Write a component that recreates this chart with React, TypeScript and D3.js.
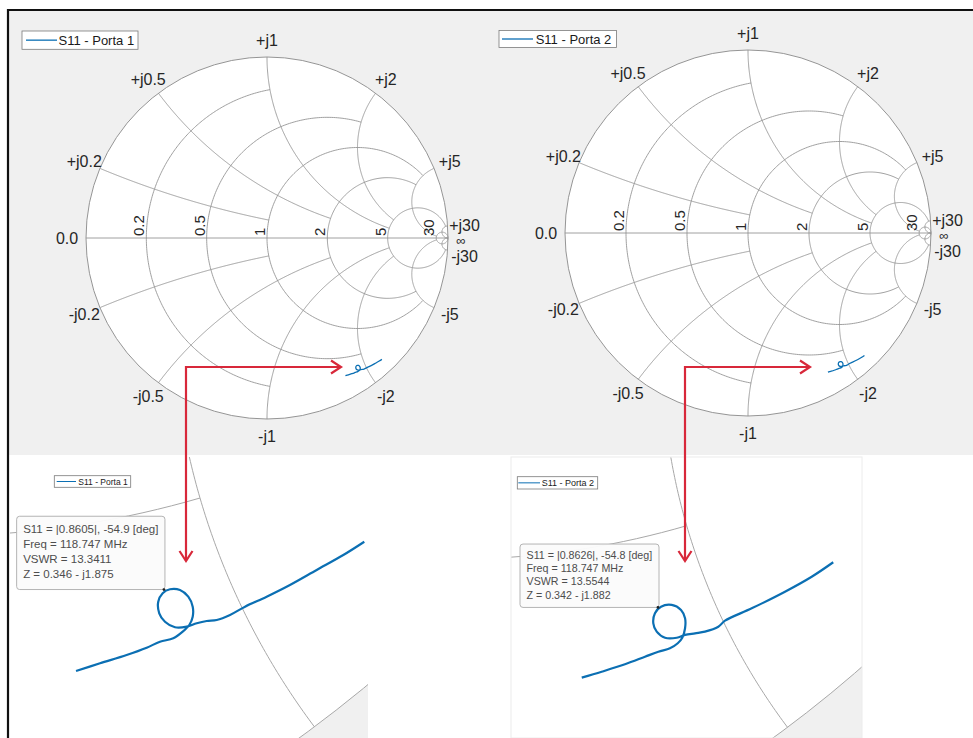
import React from "react";
import * as d3 from "d3";

const FONT = '"Liberation Sans", Arial, Helvetica, sans-serif';

// Smith grid: circle values and the value up to which each circle is drawn
const gridValues = [0.2, 0.5, 1, 2, 5, 30];
const gridLimits = [1, 2, 5, 5, 30, Infinity];
const resistanceLabels = ["0.2", "0.5", "1", "2", "5", "30"];
const reactanceLabels = ["j0.2", "j0.5", "j1", "j2", "j5", "j30"];
const legendLabels = ["S11 - Porta 1", "S11 - Porta 2"];

// S11 trace, Porta 1 (reflection coefficient: real / imaginary)
const port1Re = [0.4333, 0.4501, 0.4687, 0.4827, 0.492, 0.5013, 0.5079, 0.5125, 0.5149, 0.5149, 0.5118, 0.506, 0.499, 0.4939, 0.4908, 0.4915, 0.4955, 0.5025, 0.5107, 0.5177, 0.5247, 0.5317, 0.541, 0.5515, 0.5666, 0.5829, 0.6016, 0.6202, 0.6349];
const port1Im = [-0.761, -0.7556, -0.7498, -0.7447, -0.7405, -0.7381, -0.7335, -0.7288, -0.723, -0.716, -0.709, -0.7043, -0.7038, -0.7066, -0.7125, -0.7206, -0.7265, -0.7304, -0.73, -0.7276, -0.726, -0.7253, -0.7218, -0.716, -0.709, -0.7008, -0.6903, -0.6799, -0.6706];

// S11 trace, Porta 2
const port2Re = [0.4367, 0.4525, 0.471, 0.4869, 0.4975, 0.5067, 0.5129, 0.5165, 0.5187, 0.5187, 0.5155, 0.5081, 0.4996, 0.4948, 0.4935, 0.4962, 0.5028, 0.5121, 0.5187, 0.5266, 0.5345, 0.5451, 0.5504, 0.5716, 0.598, 0.6192, 0.6363];
const port2Im = [-0.7606, -0.7559, -0.75, -0.744, -0.74, -0.7373, -0.7333, -0.7289, -0.7214, -0.7135, -0.7069, -0.7029, -0.7043, -0.7095, -0.7175, -0.7241, -0.7289, -0.7289, -0.7267, -0.7254, -0.7241, -0.7202, -0.7154, -0.7056, -0.6924, -0.6805, -0.669];

// data tips (magnitude, angle in degrees) and their texts
const port1Marker = [0.8605, -54.9];
const port2Marker = [0.8626, -54.8];
const port1Tip = ["S11 = |0.8605|, -54.9 [deg]", "Freq = 118.747 MHz", "VSWR = 13.3411", "Z = 0.346 - j1.875"];
const port2Tip = ["S11 = |0.8626|, -54.8 [deg]", "Freq = 118.747 MHz", "VSWR = 13.5544", "Z = 0.342 - j1.882"];

type P = [number, number];

function gammaOf(r: number, x: number): P {
  if (!isFinite(r) || !isFinite(x)) return [1, 0];
  const den = (r + 1) ** 2 + x * x;
  return [(r * r + x * x - 1) / den, (2 * x) / den];
}

function resistanceArc(r: number, L: number, n = 240): P[] {
  const pm = isFinite(L) ? Math.atan(L / (r + 1)) : Math.PI / 2;
  const pts: P[] = [];
  for (let i = 0; i <= n; i++) {
    const phi = -pm + (2 * pm * i) / n;
    if (Math.abs(Math.abs(phi) - Math.PI / 2) < 1e-9) pts.push([1, 0]);
    else pts.push(gammaOf(r, (r + 1) * Math.tan(phi)));
  }
  return pts;
}

function reactanceArc(x: number, L: number, sign: number, n = 240): P[] {
  const p0 = Math.atan(x);
  const p1 = isFinite(L) ? Math.atan2(x, L + 1) : 0;
  const pts: P[] = [];
  for (let i = 0; i <= n; i++) {
    const phi = p0 + ((p1 - p0) * i) / n;
    if (phi < 1e-9) pts.push([1, 0]);
    else {
      const r = x / Math.tan(phi) - 1;
      pts.push(gammaOf(Math.max(0, r), sign * x));
    }
  }
  return pts;
}

const GRID: P[][] = (() => {
  const arcs: P[][] = [[[-1, 0], [1, 0]]];
  gridValues.forEach((v, i) => {
    const L = gridLimits[i];
    arcs.push(resistanceArc(v, L));
    arcs.push(reactanceArc(v, L, 1));
    arcs.push(reactanceArc(v, L, -1));
  });
  return arcs;
})();

const BLUE = "#0b6fb3";
const GRIDC = "#959595";
const RED = "#d8283a";

function Legend({ x, y, w, h, l1, l2, tx, fs, label, sw }: any) {
  return (
    <g>
      <rect x={x} y={y} width={w} height={h} fill="#fff" stroke="#7a7a7a" strokeWidth={0.8} />
      <line x1={l1} x2={l2} y1={y + h / 2} y2={y + h / 2} stroke={BLUE} strokeWidth={sw} />
      <text x={tx} y={y + h / 2 + fs * 0.36} fontSize={fs} fontFamily={FONT} fill="#1a1a1a">{label}</text>
    </g>
  );
}

function SmithMain({ cx, cy, R, re, im, legend }: any) {
  const sx = d3.scaleLinear().domain([-1, 1]).range([cx - R, cx + R]);
  const sy = d3.scaleLinear().domain([-1, 1]).range([cy + R, cy - R]);
  const line = d3.line<P>().x((d) => sx(d[0])).y((d) => sy(d[1]));
  const trace: P[] = re.map((v: number, i: number) => [v, im[i]] as P);
  const traceLine = d3.line<P>().x((d) => sx(d[0])).y((d) => sy(d[1])).curve(d3.curveCatmullRom);
  const lr = R + 17;
  return (
    <g>
      <circle cx={sx(0)} cy={sy(0)} r={R} fill="#fff" stroke={GRIDC} strokeWidth={1} />
      {GRID.map((a, i) => (
        <path key={i} d={line(a) || ""} fill="none" stroke={GRIDC} strokeWidth={0.9} />
      ))}
      {gridValues.map((v, i) => {
        const th = Math.PI - 2 * Math.atan(v);
        const lx = cx + lr * Math.cos(th);
        const dy = v >= 30 ? 13 : lr * Math.sin(th);
        return (
          <g key={"l" + i} fontFamily={FONT} fontSize={16} fill="#262626" textAnchor="middle" dominantBaseline="central">
            <text x={lx} y={cy - dy}>{"+" + reactanceLabels[i]}</text>
            <text x={lx} y={cy + dy + (v >= 30 ? 5 : 0)}>{"-" + reactanceLabels[i]}</text>
          </g>
        );
      })}
      <text x={cx - R - 19} y={cy} fontFamily={FONT} fontSize={16} fill="#262626" textAnchor="middle" dominantBaseline="central">0.0</text>
      <text x={cx + R + 13} y={cy + 2} fontFamily={FONT} fontSize={13} fill="#262626" textAnchor="middle" dominantBaseline="central">∞</text>
      {gridValues.map((v, i) => {
        const gx = sx((v - 1) / (v + 1));
        return (
          <text key={"r" + i} transform={`translate(${gx - 2},${cy - 2}) rotate(-90)`} fontFamily={FONT} fontSize={15} fill="#262626">
            {resistanceLabels[i]}
          </text>
        );
      })}
      <path d={traceLine(trace) || ""} fill="none" stroke={BLUE} strokeWidth={1.3} />
      <Legend {...legend} />
    </g>
  );
}

function Inset({ id, x0, y0, x1, y1, ax, ay, k, re, im, marker, tip, tipFs, tipLh, boxW, boxH, legend, border }: any) {
  const sx = d3.scaleLinear().domain([0.52, 1.52]).range([ax, ax + k]);
  const sy = d3.scaleLinear().domain([-0.64, 0.36]).range([ay, ay - k]);
  const line = d3.line<P>().x((d) => sx(d[0])).y((d) => sy(d[1]));
  const trace: P[] = re.map((v: number, i: number) => [v, im[i]] as P);
  const traceLine = d3.line<P>().x((d) => sx(d[0])).y((d) => sy(d[1])).curve(d3.curveCatmullRom);
  const a = (marker[1] * Math.PI) / 180;
  const mx = sx(marker[0] * Math.cos(a));
  const my = sy(marker[0] * Math.sin(a));
  const bx = mx + 1 - boxW;
  const by = my - boxH;
  return (
    <g>
      <defs>
        <clipPath id={id}>
          <rect x={x0} y={y0} width={x1 - x0} height={y1 - y0} />
        </clipPath>
      </defs>
      <g clipPath={`url(#${id})`}>
        <rect x={x0} y={y0} width={x1 - x0} height={y1 - y0} fill="#f0f0f0" />
        <circle cx={sx(0)} cy={sy(0)} r={k} fill="#fff" stroke="#a8a8a8" strokeWidth={1} />
        {GRID.map((g, i) => (
          <path key={i} d={line(g) || ""} fill="none" stroke="#a8a8a8" strokeWidth={1} />
        ))}
        <path d={traceLine(trace) || ""} fill="none" stroke={BLUE} strokeWidth={2.2} strokeLinejoin="round" />
      </g>
      {border && <rect x={x0} y={y0} width={x1 - x0} height={y1 - y0} fill="none" stroke="#ececec" strokeWidth={1} />}
      <rect x={bx} y={by} width={boxW} height={boxH} rx={3} fill="#fbfbfb" fillOpacity={0.96} stroke="#b4b4b4" strokeWidth={1} />
      {tip.map((t: string, i: number) => (
        <text key={i} x={bx + 6.5} y={by + tipLh * 0.95 + i * tipLh + 2} fontFamily={FONT} fontSize={tipFs} fill="#4d4d4d">{t}</text>
      ))}
      <circle cx={mx} cy={my} r={1.4} fill="#222" />
      <Legend {...legend} />
    </g>
  );
}

function Arrow({ pts }: { pts: P[] }) {
  const head = (p: P, q: P) => {
    const dx = p[0] - q[0], dy = p[1] - q[1];
    const l = Math.hypot(dx, dy);
    const ux = dx / l, uy = dy / l;
    const nx = -uy, ny = ux;
    const L = 10, Wd = 6.5;
    return `M${p[0] - ux * L + nx * Wd},${p[1] - uy * L + ny * Wd}L${p[0]},${p[1]}L${p[0] - ux * L - nx * Wd},${p[1] - uy * L - ny * Wd}`;
  };
  const d = d3.line()(pts as any) || "";
  return (
    <g fill="none" stroke={RED} strokeWidth={2.2}>
      <path d={d} />
      <path d={head(pts[0], pts[1])} />
      <path d={head(pts[pts.length - 1], pts[pts.length - 2])} />
    </g>
  );
}

export default function App() {
  return (
    <svg width={973} height={738} style={{ position: "absolute", left: 0, top: 0, display: "block" }}>
      <rect x={0} y={0} width={973} height={738} fill="#fff" />
      <rect x={8} y={10} width={965} height={445} fill="#f0f0f0" />
      <SmithMain
        cx={267} cy={238} R={181} re={port1Re} im={port1Im}
        legend={{ x: 22, y: 31, w: 116, h: 18.3, l1: 26, l2: 57, tx: 58.5, fs: 13, label: legendLabels[0], sw: 1.3 }}
      />
      <SmithMain
        cx={748} cy={233} R={183} re={port2Re} im={port2Im}
        legend={{ x: 499, y: 30.5, w: 117.5, h: 17, l1: 502, l2: 533, tx: 535.7, fs: 13, label: legendLabels[1], sw: 1.3 }}
      />
      <Inset
        id="insL" x0={10} y0={457} x1={368} y1={738} ax={200} ay={498} k={1430}
        re={port1Re} im={port1Im} marker={port1Marker} tip={port1Tip}
        tipFs={11.5} tipLh={15.2} boxW={148.3} boxH={73.3}
        legend={{ x: 54.3, y: 475.7, w: 76.4, h: 11.6, l1: 56.7, l2: 76, tx: 78.3, fs: 8.5, label: legendLabels[0], sw: 1 }}
        border={false}
      />
      <Inset
        id="insR" x0={511} y0={457} x1={862} y1={738} ax={686.7} ay={525.7} k={1260}
        re={port2Re} im={port2Im} marker={port2Marker} tip={port2Tip}
        tipFs={10.7} tipLh={13.3} boxW={139} boxH={63.4}
        legend={{ x: 517.3, y: 476.7, w: 80.4, h: 12.3, l1: 518.3, l2: 540, tx: 541.7, fs: 9, label: legendLabels[1], sw: 1 }}
        border={true}
      />
      <Arrow pts={[[186, 561], [186, 367], [341, 367]]} />
      <Arrow pts={[[685, 561], [685, 367], [810, 367]]} />
      <line x1={7} x2={973} y1={10} y2={10} stroke="#111" strokeWidth={2.2} />
      <line x1={8} x2={8} y1={9} y2={738} stroke="#111" strokeWidth={2.2} />
    </svg>
  );
}
